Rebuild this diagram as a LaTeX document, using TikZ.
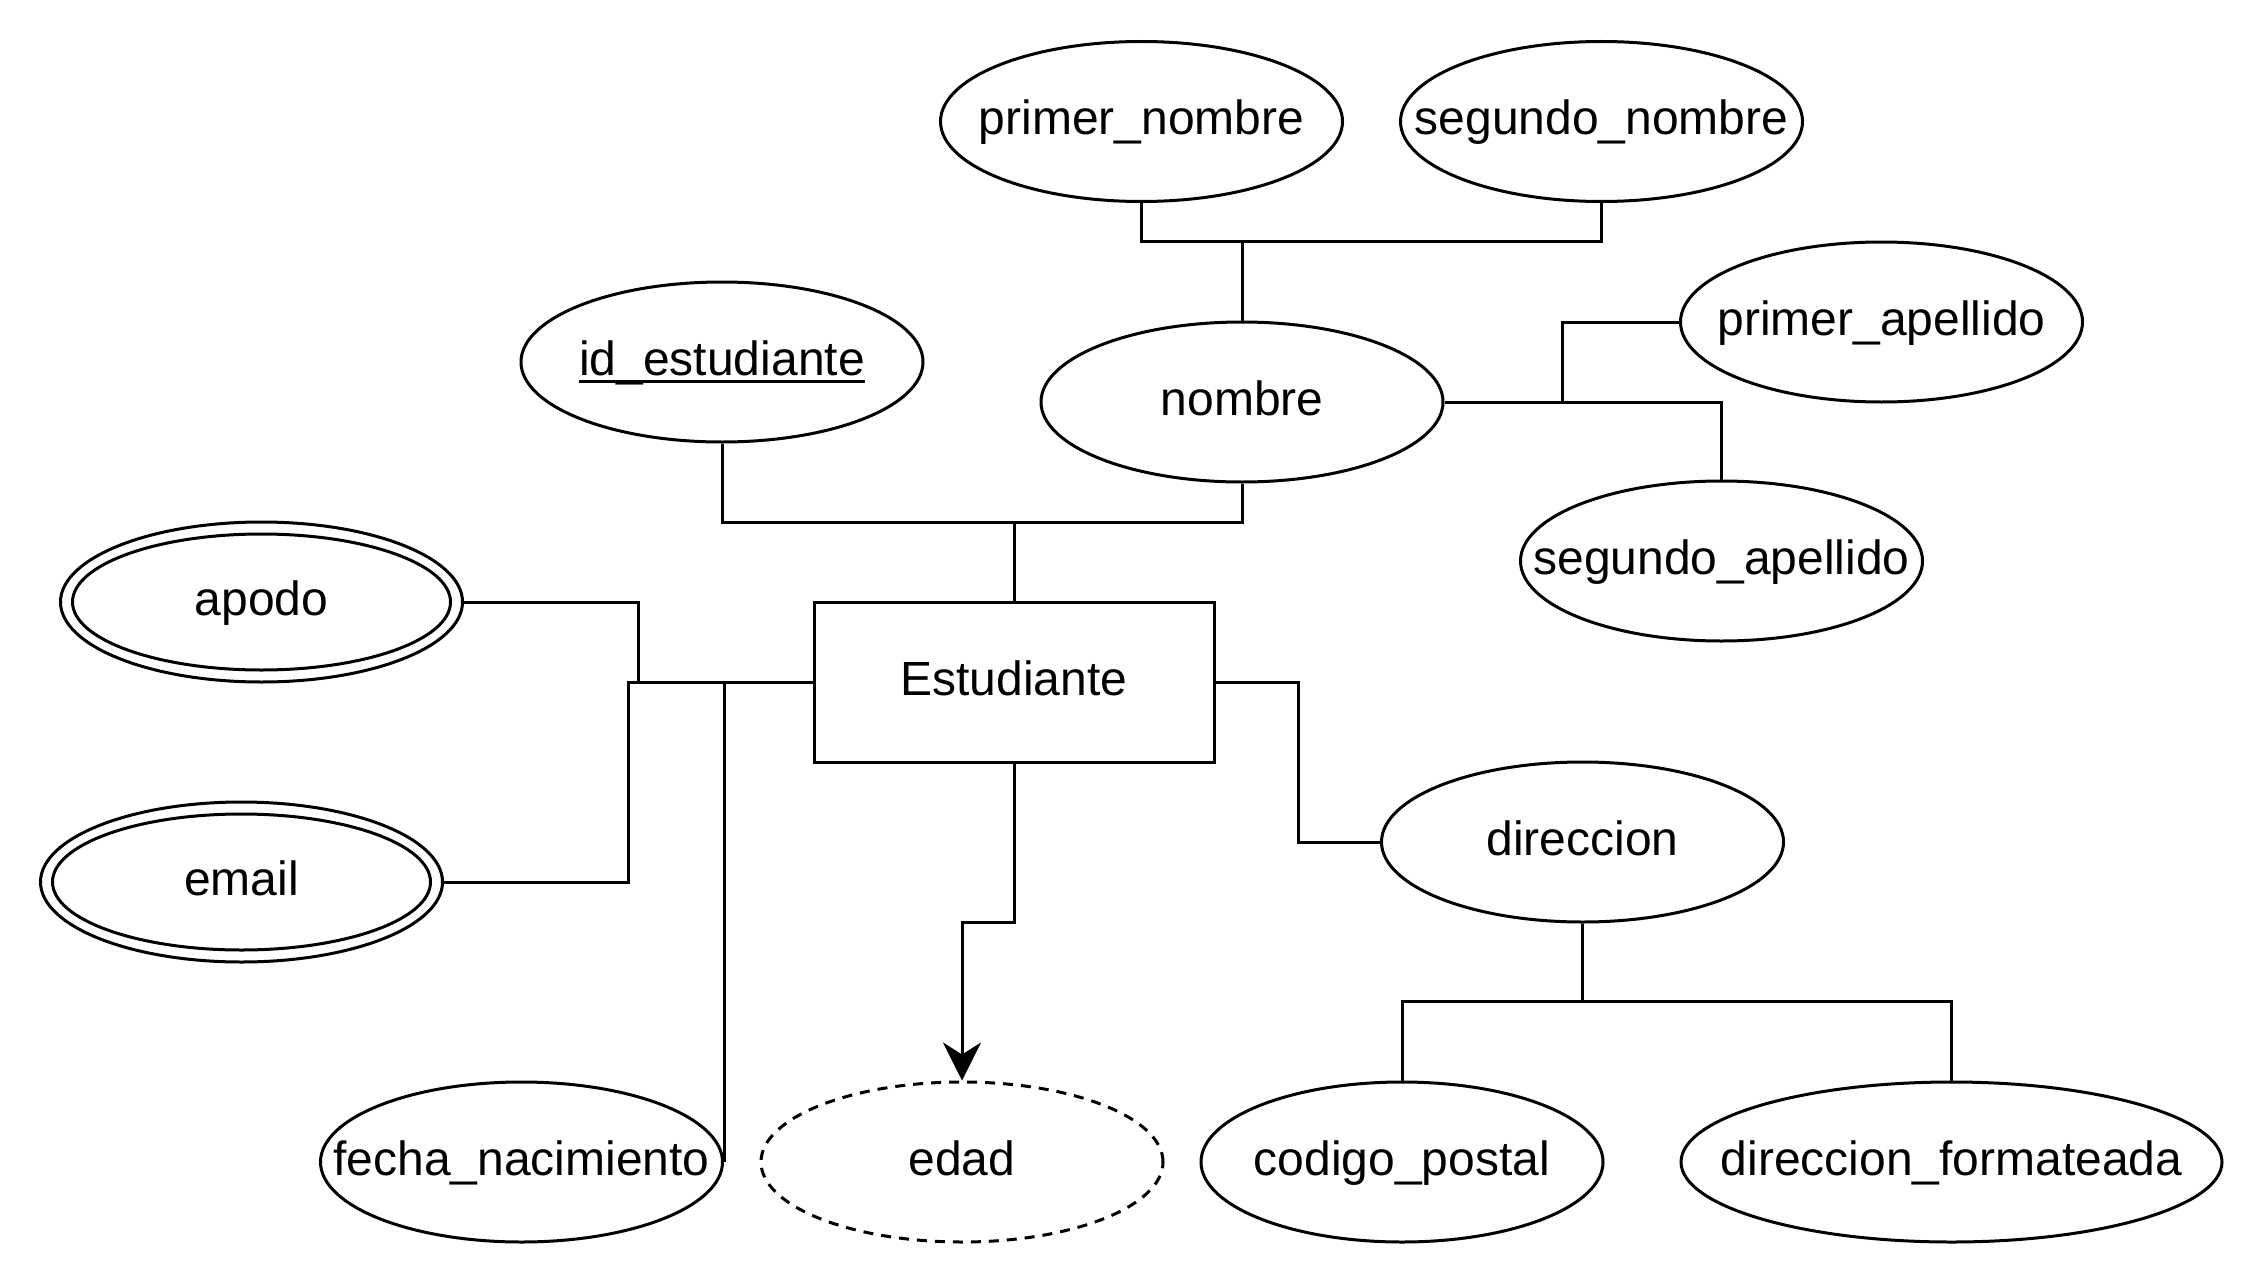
\documentclass[tikz,border=0pt]{standalone}
\usepackage{fontspec}
\setmainfont{Liberation Sans}
\usetikzlibrary{shapes.geometric,arrows.meta}
\newcommand{\tx}[1]{\rule[-7pt]{0pt}{27pt}#1}
\newcommand{\ulx}[1]{\setbox0\hbox{#1}\rlap{\rule[-4pt]{\wd0}{1.5pt}}\box0}
\begin{document}
\begin{tikzpicture}[x=0.5pt,y=-0.5pt,
  every node/.style={font=\fontsize{24pt}{28pt}\selectfont},
  attr/.style={ellipse, draw, line width=1.5pt, inner sep=0pt, minimum width=201pt, minimum height=80pt},
  inner/.style={ellipse, draw, line width=1.5pt, inner sep=0pt, minimum width=189pt, minimum height=68pt},
  entity/.style={rectangle, draw, line width=1.5pt, inner sep=0pt, minimum width=200pt, minimum height=80pt},
  conn/.style={draw, line width=1.5pt},
  arr/.style={conn, -{Stealth[length=19pt, width=19pt, inset=6pt]}},
  derived/.style={attr, dash pattern=on 5pt off 4pt}
]
\useasboundingbox (0,0) rectangle (2264,1284);

% nodes
\node[attr, label={center:\tx{primer\_nombre}}] (pn) at (1141.5,121.5) {};
\node[attr, label={center:\tx{segundo\_nombre}}] (sn) at (1601.5,121.5) {};
\node[attr, label={center:\tx{nombre}}] (nom) at (1242,402) {};
\node[attr, label={center:\tx{\ulx{id\_estudiante}}}] (id) at (722,362) {};
\node[attr, label={center:\tx{primer\_apellido}}] (pa) at (1881.5,322) {};
\node[attr, label={center:\tx{segundo\_apellido}}] (sa) at (1721.5,561) {};
\node[entity] (est) at (1014,682) {\tx{Estudiante}};
\node[attr] (apodo) at (261.5,602) {};
\node[inner, label={center:\tx{apodo}}] (apodoin) at (apodo) {};
\node[attr] (email) at (241.5,882) {};
\node[inner, label={center:\tx{email}}] (emailin) at (email) {};
\node[attr, label={center:\tx{fecha\_nacimiento}}] (fecha) at (521.5,1162) {};
\node[derived, label={center:\tx{edad}}] (edad) at (962,1162) {};
\node[attr, label={center:\tx{direccion}}] (dir) at (1582.5,842) {};
\node[attr, label={center:\tx{codigo\_postal}}] (cp) at (1402,1162) {};
\node[attr, minimum width=270.5pt, label={center:\tx{direccion\_formateada}}] (df) at (1951.5,1162) {};

% junctions
\coordinate (j1) at (1242,241.5);
\coordinate (j2) at (1562,402);
\coordinate (j3) at (1014,522);
\coordinate (j4) at (638,682);
\coordinate (j5) at (628,682);
\coordinate (j7) at (1014,922);
\coordinate (j8) at (1298,842);
\coordinate (j9) at (1582.5,1001.5);

% connectors
\draw[conn] (pn.south) |- (j1) -| (sn.south);
\draw[conn] (j1) -- (nom.north);
\draw[conn] (nom.east) -| (sa.north);
\draw[conn] (j2) |- (pa.west);
\draw[conn] (id.south) |- (j3) -| (nom.south);
\draw[conn] (j3) -- (est.north);
\draw[conn] (apodo.east) -| (j4) -- (est.west);
\draw[conn] (email.east) -| (j5) -- (est.west);
\draw[conn] (fecha.east) -- (fecha.east |- est.west);
\draw[arr] (est.south) -- (j7) -| (edad.north);
\draw[conn] (est.east) -| (j8) -- (dir.west);
\draw[conn] (dir.south) -- (j9);
\draw[conn] (cp.north) |- (j9) -| (df.north);
\end{tikzpicture}
\end{document}
